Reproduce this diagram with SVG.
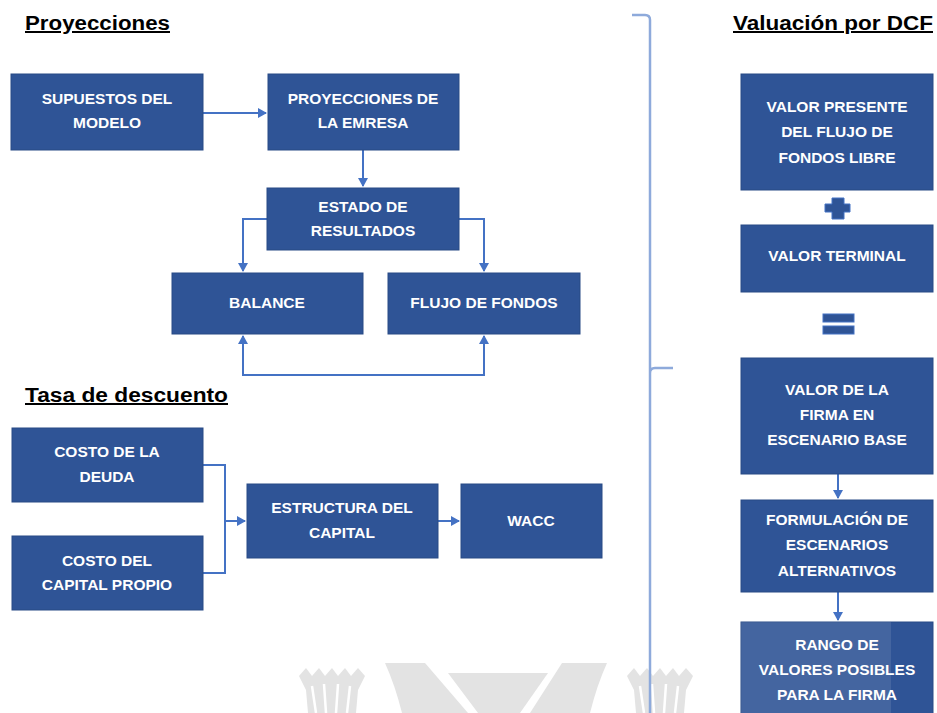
<svg xmlns="http://www.w3.org/2000/svg" width="937" height="713" viewBox="0 0 937 713">
<style>
.box{fill:#2f5496;stroke:#294a85;stroke-width:1}
.t{font-family:"Liberation Sans",Arial,sans-serif;font-weight:bold;font-size:15.5px;fill:#ffffff;text-anchor:middle}
.h{font-family:"Liberation Sans",Arial,sans-serif;font-weight:bold;font-size:20px;fill:#000000;text-decoration:underline}
.c{fill:none;stroke:#4472c4;stroke-width:2}
.wm{fill:#e3e3e3}
</style>
<defs>
<marker id="a" markerWidth="10" markerHeight="10" refX="8" refY="5" orient="auto-start-reverse" markerUnits="userSpaceOnUse">
<path d="M0,0 L9,5 L0,10 z" fill="#4472c4"/>
</marker>
</defs>
<rect width="937" height="713" fill="#ffffff"/>

<g id="watermark">
<path class="wm" d="M299,676 L306,668 L312,676 L319,668 L325,676 L332,668 L338,676 L345,668 L351,676 L358,668 L365,676 L358,690 L356,713 L308,713 L306,690 Z"/>
<path d="M312,686 L316,713 M324,684 L326,713 M338,684 L336,713 M350,686 L347,713" stroke="#ffffff" stroke-width="2.5" fill="none"/>
<path class="wm" d="M385,663 L425,663 L468,713 L402,713 Q395,685 385,663 Z"/>
<path class="wm" d="M448,673 L548,673 L520,713 L478,713 Z"/>
<path class="wm" d="M562,663 L607,663 Q597,685 590,713 L530,713 Z"/>
<path class="wm" d="M627,676 L634,668 L640,676 L647,668 L653,676 L660,668 L666,676 L673,668 L679,676 L686,668 L693,676 L686,690 L684,713 L636,713 L634,690 Z"/>
<path d="M640,686 L644,713 M652,684 L654,713 M666,684 L664,713 M678,686 L675,713" stroke="#ffffff" stroke-width="2.5" fill="none"/>
</g>

<text class="h" x="25" y="30" textLength="145" lengthAdjust="spacingAndGlyphs">Proyecciones</text>
<text class="h" x="25" y="402" textLength="203" lengthAdjust="spacingAndGlyphs">Tasa de descuento</text>
<text class="h" x="733" y="30" textLength="200" lengthAdjust="spacingAndGlyphs">Valuación por DCF</text>

<g id="connectors">
<line class="c" x1="203" y1="113" x2="266" y2="113" marker-end="url(#a)"/>
<line class="c" x1="363" y1="150" x2="363" y2="186" marker-end="url(#a)"/>
<polyline class="c" points="267,219 243,219 243,271" marker-end="url(#a)"/>
<polyline class="c" points="459,219 484,219 484,271" marker-end="url(#a)"/>
<polyline class="c" points="243,336 243,375 484,375 484,336" marker-start="url(#a)" marker-end="url(#a)"/>
<polyline class="c" points="203,465 225,465 225,573 203,573"/>
<line class="c" x1="225" y1="521" x2="245" y2="521" marker-end="url(#a)"/>
<line class="c" x1="438" y1="521" x2="459" y2="521" marker-end="url(#a)"/>
<line class="c" x1="838" y1="474" x2="838" y2="498" marker-end="url(#a)"/>
<line class="c" x1="838" y1="592" x2="838" y2="620" marker-end="url(#a)"/>
<path d="M632,15 L645,15 Q650,15 650,20 L650,713 M650,373 Q650,368 655,368 L673,368" fill="none" stroke="#8eaadb" stroke-width="2.5"/>
</g>

<g id="n-supuestos"><rect class="box" x="11" y="74" width="192" height="76"/><text class="t" x="107" y="104">SUPUESTOS DEL</text><text class="t" x="107" y="128">MODELO</text></g>
<g id="n-proyecciones"><rect class="box" x="268" y="74" width="191" height="76"/><text class="t" x="363" y="104">PROYECCIONES DE</text><text class="t" x="363" y="128">LA EMRESA</text></g>
<g id="n-estado"><rect class="box" x="267" y="188" width="192" height="62"/><text class="t" x="363" y="212">ESTADO DE</text><text class="t" x="363" y="236">RESULTADOS</text></g>
<g id="n-balance"><rect class="box" x="172" y="273" width="191" height="61"/><text class="t" x="267" y="308">BALANCE</text></g>
<g id="n-flujo"><rect class="box" x="388" y="273" width="192" height="61"/><text class="t" x="484" y="308">FLUJO DE FONDOS</text></g>

<g id="n-deuda"><rect class="box" x="12" y="428" width="191" height="74"/><text class="t" x="107" y="457">COSTO DE LA</text><text class="t" x="107" y="482">DEUDA</text></g>
<g id="n-propio"><rect class="box" x="12" y="536" width="191" height="74"/><text class="t" x="107" y="566">COSTO DEL</text><text class="t" x="107" y="590">CAPITAL PROPIO</text></g>
<g id="n-estructura"><rect class="box" x="247" y="484" width="191" height="74"/><text class="t" x="342" y="513">ESTRUCTURA DEL</text><text class="t" x="342" y="538">CAPITAL</text></g>
<g id="n-wacc"><rect class="box" x="461" y="484" width="141" height="74"/><text class="t" x="531" y="526">WACC</text></g>

<g id="n-vp"><rect class="box" x="741" y="74" width="192" height="116"/><text class="t" x="837" y="112">VALOR PRESENTE</text><text class="t" x="837" y="137">DEL FLUJO DE</text><text class="t" x="837" y="163">FONDOS LIBRE</text></g>
<g id="plus"><path d="M832,198 L844,198 L844,204 L850,204 L850,212 L844,212 L844,219 L832,219 L832,212 L825,212 L825,204 L832,204 Z" fill="#2f5496" stroke="#4472c4" stroke-width="1"/></g>
<g id="n-vt"><rect class="box" x="741" y="225" width="192" height="67"/><text class="t" x="837" y="261">VALOR TERMINAL</text></g>
<g id="equals"><rect x="823" y="314" width="31" height="8" fill="#2f5496" stroke="#4472c4" stroke-width="1"/><rect x="823" y="326" width="31" height="8" fill="#2f5496" stroke="#4472c4" stroke-width="1"/></g>
<g id="n-firma"><rect class="box" x="741" y="358" width="192" height="116"/><text class="t" x="837" y="395">VALOR DE LA</text><text class="t" x="837" y="420">FIRMA EN</text><text class="t" x="837" y="445">ESCENARIO BASE</text></g>
<g id="n-formulacion"><rect class="box" x="741" y="500" width="192" height="92"/><text class="t" x="837" y="525">FORMULACIÓN DE</text><text class="t" x="837" y="550">ESCENARIOS</text><text class="t" x="837" y="576">ALTERNATIVOS</text></g>
<g id="n-rango"><rect class="box" x="741" y="622" width="192" height="95"/><rect x="741" y="622" width="150" height="91" fill="#ffffff" fill-opacity="0.1"/><text class="t" x="837" y="650">RANGO DE</text><text class="t" x="837" y="675">VALORES POSIBLES</text><text class="t" x="837" y="700">PARA LA FIRMA</text></g>
</svg>
